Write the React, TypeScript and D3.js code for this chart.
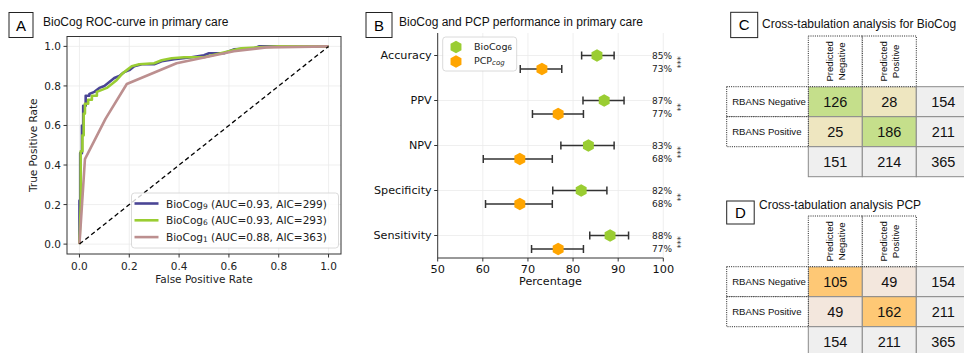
import React from 'react';
import * as d3 from 'd3';

// ---------- Panel A data (ROC curves) ----------
const bio9Fpr = [0, 0, 0.003, 0.003, 0.01, 0.01, 0.015, 0.015, 0.025, 0.025, 0.04, 0.04, 0.06, 0.08, 0.1, 0.12, 0.14, 0.16, 0.18, 0.2, 0.22, 0.25, 0.3, 0.33, 0.38, 0.45, 0.5, 0.52, 0.58, 0.62, 0.7, 0.72, 1];
const bio9Tpr = [0, 0.22, 0.22, 0.46, 0.46, 0.6, 0.6, 0.7, 0.7, 0.75, 0.75, 0.76, 0.77, 0.79, 0.8, 0.82, 0.84, 0.85, 0.87, 0.88, 0.9, 0.91, 0.91, 0.925, 0.935, 0.945, 0.955, 0.965, 0.965, 0.985, 0.99, 1, 1];
const bio6Fpr = [0, 0.005, 0.005, 0.012, 0.012, 0.017, 0.017, 0.022, 0.022, 0.035, 0.035, 0.05, 0.05, 0.07, 0.07, 0.09, 0.11, 0.13, 0.15, 0.17, 0.19, 0.21, 0.24, 0.3, 0.33, 0.37, 0.42, 0.5, 0.55, 0.6, 0.65, 0.72, 0.8, 1];
const bio6Tpr = [0, 0.2, 0.47, 0.47, 0.55, 0.55, 0.66, 0.66, 0.71, 0.71, 0.73, 0.73, 0.75, 0.75, 0.77, 0.78, 0.79, 0.81, 0.83, 0.86, 0.88, 0.9, 0.91, 0.915, 0.93, 0.94, 0.945, 0.945, 0.96, 0.975, 0.99, 0.995, 1, 1];
const bio1Fpr = [0, 0.022, 0.105, 0.19, 0.39, 0.62, 0.75, 1];
const bio1Tpr = [0, 0.43, 0.635, 0.81, 0.915, 0.975, 0.995, 1];
const rocTicks = [0, 0.2, 0.4, 0.6, 0.8, 1.0];
const rocLegendSub = ['9', '6', '1'];
const rocLegendText = [' (AUC=0.93, AIC=299)', ' (AUC=0.93, AIC=293)', ' (AUC=0.88, AIC=363)'];

// ---------- Panel B data ----------
const metrics = ['Accuracy', 'PPV', 'NPV', 'Specificity', 'Sensitivity'];
const bioVal = [85.3, 86.9, 83.4, 81.8, 88.2];
const bioLo = [81.9, 82.2, 77.3, 75.5, 83.7];
const bioHi = [89.1, 91.3, 89.1, 87.5, 92.3];
const pcpVal = [73.1, 76.7, 68.2, 68.2, 76.7];
const pcpLo = [68.3, 71.0, 60.1, 60.6, 70.8];
const pcpHi = [77.5, 82.3, 75.4, 75.4, 82.3];
const bioLabel = ['85%', '87%', '83%', '82%', '88%'];
const pcpLabel = ['73%', '77%', '68%', '68%', '77%'];
const sigStars = ['***', '**', '***', '**', '***'];
const pctTicks = [50, 60, 70, 80, 90, 100];

// ---------- Panels C & D data ----------
const colHeaders = [['Predicted', 'Negative'], ['Predicted', 'Positive']];
const rowHeaders = ['RBANS Negative', 'RBANS Positive'];
const tableC = [[126, 28, 154], [25, 186, 211], [151, 214, 365]];
const tableD = [[105, 49, 154], [49, 162, 211], [154, 211, 365]];

const MPL = 'DejaVu Sans, sans-serif';
const HEL = 'Liberation Sans, Arial, Helvetica, sans-serif';

const C_BIO9 = '#4a4595';
const C_BIO6 = '#9acd32';
const C_BIO1 = '#bc8f8f';
const C_ORANGE = '#ffa500';

function hexPath(r: number) {
  const pts: [number, number][] = [];
  for (let i = 0; i < 6; i++) {
    const a = (-90 + 60 * i) * Math.PI / 180;
    pts.push([r * Math.cos(a), r * Math.sin(a)]);
  }
  return 'M' + pts.map(p => p.join(',')).join('L') + 'Z';
}

function LabelBox({ x, y, w, h, label }: { x: number; y: number; w: number; h: number; label: string }) {
  return (
    <g>
      <rect x={x} y={y} width={w} height={h} fill="#fff" stroke="#222" strokeWidth={1} />
      <text x={x + w / 2} y={y + h / 2} textAnchor="middle" dominantBaseline="central" fontFamily={HEL} fontSize={15}>{label}</text>
    </g>
  );
}

function PanelA() {
  const x = d3.scaleLinear().domain([-0.05, 1.05]).range([67, 341]);
  const y = d3.scaleLinear().domain([-0.05, 1.05]).range([254, 36.5]);
  const line = d3.line<number>();
  const mk = (fx: number[], ty: number[]) =>
    d3.line<number>().x(i => x(fx[i])).y(i => y(ty[i]))(fx.map((_, i) => i)) || '';
  const series = [
    { d: mk(bio9Fpr, bio9Tpr), c: C_BIO9 },
    { d: mk(bio6Fpr, bio6Tpr), c: C_BIO6 },
    { d: mk(bio1Fpr, bio1Tpr), c: C_BIO1 },
  ];
  void line;
  const [x0, x1] = x.range();
  const [y0, y1] = y.range();
  return (
    <g>
      <LabelBox x={9} y={12.5} w={24} h={25} label="A" />
      <text x={43} y={25.5} fontFamily={HEL} fontSize={12} fill="#111">BioCog ROC-curve in primary care</text>
      {rocTicks.map(t => (
        <g key={'g' + t}>
          <line x1={x(t)} x2={x(t)} y1={y1} y2={y0} stroke="#ebebeb" strokeWidth={0.8} />
          <line x1={x0} x2={x1} y1={y(t)} y2={y(t)} stroke="#ebebeb" strokeWidth={0.8} />
        </g>
      ))}
      {series.map((s, i) => (
        <path key={i} d={s.d} fill="none" stroke={s.c} strokeWidth={2.6} strokeLinejoin="round" />
      ))}
      <line x1={x(0)} y1={y(0)} x2={x(1)} y2={y(1)} stroke="#000" strokeWidth={1.3} strokeDasharray="4.5,3" />
      <rect x={x0} y={y1} width={x1 - x0} height={y0 - y1} fill="none" stroke="#333" strokeWidth={1} />
      {rocTicks.map(t => (
        <g key={'t' + t} fontFamily={MPL} fontSize={10.5} fill="#222">
          <line x1={x(t)} x2={x(t)} y1={y0} y2={y0 + 3.5} stroke="#333" />
          <text x={x(t)} y={y0 + 12} textAnchor="middle" dominantBaseline="central">{t.toFixed(1)}</text>
          <line x1={x0 - 3.5} x2={x0} y1={y(t)} y2={y(t)} stroke="#333" />
          <text x={x0 - 6} y={y(t)} textAnchor="end" dominantBaseline="central">{t.toFixed(1)}</text>
        </g>
      ))}
      <text x={(x0 + x1) / 2} y={279} textAnchor="middle" dominantBaseline="central" fontFamily={MPL} fontSize={10.5} fill="#222">False Positive Rate</text>
      <text transform={`translate(33,${(y0 + y1) / 2}) rotate(-90)`} textAnchor="middle" dominantBaseline="central" fontFamily={MPL} fontSize={10.5} fill="#222">True Positive Rate</text>
      <rect x={131.5} y={193} width={207} height={55} rx={3} fill="#fff" fillOpacity={0.8} stroke="#d0d0d0" strokeWidth={0.8} />
      {series.map((s, i) => (
        <g key={'l' + i}>
          <line x1={134.5} x2={158.5} y1={203.5 + i * 16.8} y2={203.5 + i * 16.8} stroke={s.c} strokeWidth={2.6} />
          <text x={166} y={203.5 + i * 16.8} dominantBaseline="central" fontFamily={MPL} fontSize={10.5} fill="#222">
            BioCog<tspan fontSize={7.5} dy={2}>{rocLegendSub[i]}</tspan><tspan dy={-2}>{rocLegendText[i]}</tspan>
          </text>
        </g>
      ))}
    </g>
  );
}

function PanelB() {
  const x = d3.scaleLinear().domain([50, 100]).range([437.7, 663.3]);
  const y = d3.scalePoint<string>().domain(metrics).range([33, 258]).padding(0.5);
  const off = 13.5;
  const hex = hexPath(6.3);
  const [yTop, yBot] = y.range();
  const x0 = x.range()[0];
  return (
    <g>
      <LabelBox x={366} y={12.5} w={26} h={25} label="B" />
      <text x={399} y={25.5} fontFamily={HEL} fontSize={12} fill="#111">BioCog and PCP performance in primary care</text>
      {pctTicks.filter(t => t > 50).map(t => (
        <line key={'vg' + t} x1={x(t)} x2={x(t)} y1={yTop} y2={yBot} stroke="#ebebeb" strokeWidth={0.8} />
      ))}
      {metrics.map(m => (
        <line key={'hg' + m} x1={x0} x2={x(100)} y1={y(m)!} y2={y(m)!} stroke="#ebebeb" strokeWidth={0.8} />
      ))}
      <line x1={x0} x2={x0} y1={yTop} y2={yBot} stroke="#333" strokeWidth={1} />
      <line x1={x0} x2={x(100)} y1={yBot} y2={yBot} stroke="#333" strokeWidth={1} />
      {pctTicks.map(t => (
        <g key={'xt' + t}>
          <line x1={x(t)} x2={x(t)} y1={yBot} y2={yBot + 3.5} stroke="#333" />
          <text x={x(t)} y={yBot + 11} textAnchor="middle" dominantBaseline="central" fontFamily={MPL} fontSize={11.3} fill="#111">{t}</text>
        </g>
      ))}
      <text x={(x0 + x(100)) / 2} y={281.5} textAnchor="middle" dominantBaseline="central" fontFamily={MPL} fontSize={11.2} fill="#111">Percentage</text>
      {metrics.map((m, i) => {
        const yc = y(m)!;
        return (
          <g key={m}>
            <line x1={x0 - 3.5} x2={x0} y1={yc} y2={yc} stroke="#333" />
            <text x={x0 - 6} y={yc} textAnchor="end" dominantBaseline="central" fontFamily={MPL} fontSize={11.2} fill="#111">{m}</text>
            {/* BioCog */}
            <line x1={x(bioLo[i])} x2={x(bioHi[i])} y1={yc} y2={yc} stroke="#333" strokeWidth={1.5} />
            <line x1={x(bioLo[i])} x2={x(bioLo[i])} y1={yc - 4} y2={yc + 4} stroke="#333" strokeWidth={1.5} />
            <line x1={x(bioHi[i])} x2={x(bioHi[i])} y1={yc - 4} y2={yc + 4} stroke="#333" strokeWidth={1.5} />
            <path d={hex} transform={`translate(${x(bioVal[i])},${yc})`} fill={C_BIO6} />
            {/* PCP */}
            <line x1={x(pcpLo[i])} x2={x(pcpHi[i])} y1={yc + off} y2={yc + off} stroke="#333" strokeWidth={1.5} />
            <line x1={x(pcpLo[i])} x2={x(pcpLo[i])} y1={yc + off - 4} y2={yc + off + 4} stroke="#333" strokeWidth={1.5} />
            <line x1={x(pcpHi[i])} x2={x(pcpHi[i])} y1={yc + off - 4} y2={yc + off + 4} stroke="#333" strokeWidth={1.5} />
            <path d={hex} transform={`translate(${x(pcpVal[i])},${yc + off})`} fill={C_ORANGE} />
            <text x={652} y={yc} dominantBaseline="central" fontFamily={MPL} fontSize={9} fill="#222">{bioLabel[i]}</text>
            <text x={652} y={yc + off} dominantBaseline="central" fontFamily={MPL} fontSize={9} fill="#222">{pcpLabel[i]}</text>
            <text transform={`translate(676.5,${yc + off / 2}) rotate(90)`} textAnchor="middle" dominantBaseline="central" fontFamily={MPL} fontSize={8} fill="#222">{sigStars[i]}</text>
          </g>
        );
      })}
      <rect x={442.7} y={37} width={74} height={34} rx={3} fill="#fff" fillOpacity={0.85} stroke="#d0d0d0" strokeWidth={0.8} />
      <path d={hex} transform="translate(456,47)" fill={C_BIO6} />
      <path d={hex} transform="translate(456,61.5)" fill={C_ORANGE} />
      <text x={474} y={46} dominantBaseline="central" fontFamily={MPL} fontSize={9.5} fill="#222">
        BioCog<tspan fontSize={7} dy={2}>6</tspan>
      </text>
      <text x={474} y={60.5} dominantBaseline="central" fontFamily={MPL} fontSize={9.5} fill="#222">
        PCP<tspan fontSize={7} fontStyle="italic" dy={2}>cog</tspan>
      </text>
    </g>
  );
}

function CrossTab({ top, values, diag, offd, label, title, box }: {
  top: number; values: number[][]; diag: string; offd: string; label: string; title: string;
  box: { x: number; y: number; w: number; h: number; tx: number; ty: number };
}) {
  const headH = 50.7;
  const cx = d3.scaleBand<number>().domain([0, 1, 2]).range([808.3, 970.3]);
  const ry = d3.scaleBand<number>().domain([0, 1, 2]).range([top + headH, top + headH + 90]);
  const cw = cx.bandwidth();
  const rh = ry.bandwidth();
  const fillFor = (r: number, c: number) => (r === 2 || c === 2 ? '#efefef' : r === c ? diag : offd);
  const dotted = { stroke: '#222', strokeWidth: 1, strokeDasharray: '1,1.2', fill: 'none' };
  const labX0 = 726.7;
  return (
    <g>
      <LabelBox x={box.x} y={box.y} w={box.w} h={box.h} label={label} />
      <text x={box.tx} y={box.ty} dominantBaseline="central" fontFamily={HEL} fontSize={12} fill="#111">{title}</text>
      {values.map((row, r) => row.map((v, c) => (
        <g key={r + '-' + c}>
          <rect x={cx(c)!} y={ry(r)!} width={cw} height={rh} fill={fillFor(r, c)} stroke="#8a8a8a" strokeWidth={1} />
          <text x={cx(c)! + cw / 2} y={ry(r)! + rh / 2 + 0.5} textAnchor="middle" dominantBaseline="central" fontFamily={HEL} fontSize={14.5} fill="#111">{v}</text>
        </g>
      )))}
      {colHeaders.map((h, c) => (
        <g key={'h' + c}>
          <rect x={cx(c)!} y={top} width={cw} height={headH} fill="#fff" />
          <rect x={cx(c)!} y={top} width={cw} height={headH} {...dotted} />
          {h.map((s, k) => (
            <text key={k} transform={`translate(${cx(c)! + cw / 2 - 6 + k * 12},${top + headH / 2}) rotate(-90)`} textAnchor="middle" dominantBaseline="central" fontFamily={HEL} fontSize={9.6} fill="#111">{s}</text>
          ))}
        </g>
      ))}
      {rowHeaders.map((s, r) => (
        <g key={'r' + r}>
          <rect x={labX0} y={ry(r)!} width={cx(0)! - labX0} height={rh} fill="#fff" />
          <rect x={labX0} y={ry(r)!} width={cx(0)! - labX0} height={rh} {...dotted} />
          <text x={labX0 + 5.5} y={ry(r)! + rh / 2} dominantBaseline="central" fontFamily={HEL} fontSize={9.6} fill="#111">{s}</text>
        </g>
      ))}
    </g>
  );
}

export default function App() {
  return (
    <svg width={964} height={353} viewBox="0 0 964 353" style={{ position: 'absolute', left: 0, top: 0, display: 'block', background: '#fff' }}>
      <rect x={0} y={0} width={964} height={353} fill="#fff" />
      <PanelA />
      <PanelB />
      <CrossTab top={36} values={tableC} diag="#c5df8b" offd="#eee6c0" label="C" title="Cross-tabulation analysis for BioCog"
        box={{ x: 730.7, y: 12.3, w: 27, h: 25.3, tx: 762, ty: 24 }} />
      <CrossTab top={216} values={tableD} diag="#fec875" offd="#f3e7dd" label="D" title="Cross-tabulation analysis PCP"
        box={{ x: 726.7, y: 201, w: 27.5, h: 23, tx: 759, ty: 205 }} />
    </svg>
  );
}
